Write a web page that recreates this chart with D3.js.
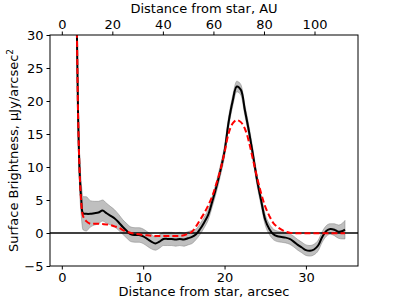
<!DOCTYPE html>
<html>
<head>
<meta charset="utf-8">
<script src="https://cdn.jsdelivr.net/npm/d3@7"></script>
<style>
body { margin: 0; background: #fff; }
text { font-family: "DejaVu Sans", sans-serif; }
</style>
</head>
<body>
<svg id="chart" width="399" height="299"></svg>
<script>
// distance from star (arcsec)
var dist = [1.7, 1.85, 2.0, 2.2, 2.4, 2.6, 3.0, 3.5, 4.0, 4.5, 5.0, 5.5, 6.0, 6.5, 7.0, 7.5, 8.0, 8.5, 9.0, 9.5,
  10.0, 10.5, 11.0, 11.5, 12.0, 12.5, 13.0, 13.5, 14.0, 14.5, 15.0, 15.5, 16.0, 16.5, 17.0, 17.5, 18.0, 18.5, 19.0, 19.5,
  20.0, 20.5, 21.0, 21.5, 22.0, 22.5, 23.0, 23.5, 24.0, 24.5, 25.0, 25.5, 26.0, 26.5, 27.0, 27.5, 28.0, 28.5, 29.0, 29.5,
  30.0, 30.5, 31.0, 31.5, 32.0, 32.5, 33.0, 33.5, 34.0, 34.5, 34.8];

// measured surface brightness
var observed = [40, 31, 18, 9, 5, 3.0, 2.9, 2.9, 3.0, 3.1, 3.4, 3.0, 2.6, 2.2, 1.6, 0.9, 0.3, -0.2, -0.3, -0.3,
  -0.5, -0.9, -1.3, -1.6, -1.3, -0.9, -0.9, -0.9, -1.0, -0.9, -1.0, -0.8, -0.6, -0.2, 0.6, 1.6, 2.8, 4.8, 7.0, 9.5,
  12.4, 16.8, 20.0, 22.2, 21.7, 18.6, 15.4, 11.8, 8.0, 4.9, 2.0, 0.6, -0.2, -0.5, -0.6, -0.7, -0.9, -1.3, -1.8, -2.2,
  -2.6, -2.7, -2.5, -1.9, -0.6, 0.3, 0.6, 0.5, 0.2, 0.3, 0.5];

// uncertainty (half width of grey band)
var uncert = [2.5, 2.5, 2.5, 2.5, 2.5, 2.5, 2.6, 2.0, 1.8, 1.7, 1.6, 1.5, 1.4, 1.3, 1.2, 1.1, 1.1, 1.1, 1.1, 1.1,
  1.1, 1.1, 1.1, 1.0, 1.0, 1.0, 1.0, 1.0, 1.0, 1.0, 1.0, 1.0, 1.0, 0.8, 0.8, 0.8, 0.8, 0.8, 0.8, 0.8,
  0.8, 0.8, 0.8, 0.8, 0.8, 0.8, 0.8, 0.8, 0.8, 0.8, 0.8, 0.8, 0.8, 0.8, 0.8, 0.8, 0.8, 0.8, 0.8, 0.8,
  0.8, 0.8, 0.8, 0.8, 0.8, 0.8, 0.8, 0.9, 1.0, 1.2, 1.4];

// model
var model = [40, 31, 18, 9, 4.5, 2.6, 1.8, 1.4, 1.4, 1.4, 1.35, 1.3, 1.2, 1.0, 0.8, 0.45, 0.2, 0.0, -0.1, -0.2,
  -0.3, -0.35, -0.4, -0.45, -0.45, -0.45, -0.45, -0.45, -0.45, -0.45, -0.35, -0.1, 0.2, 1.0, 2.0, 3.0, 4.2, 5.6, 7.5, 9.6,
  12.2, 15.1, 16.6, 17.1, 16.8, 15.8, 13.8, 11.1, 8.4, 6.0, 4.0, 2.6, 1.5, 0.9, 0.5, 0.2, 0.05, 0.0, -0.05, -0.05,
  -0.05, -0.05, -0.05, -0.05, -0.05, -0.05, -0.05, -0.05, -0.05, -0.05, -0.05];

var yTicks = [-5, 0, 5, 10, 15, 20, 25, 30];
var xTicks = [0, 10, 20, 30];
var auTicks = [0, 20, 40, 60, 80, 100];
var auPerArcsec = 3.22;

var svg = d3.select("#chart");
var mLeft = 50, mRight = 358, mTop = 35, mBottom = 266;
var fs = 13;

var x = d3.scaleLinear().domain([-1.45, 36.4]).range([mLeft, mRight]);
var xAU = d3.scaleLinear().domain([-1.45 * auPerArcsec, 36.4 * auPerArcsec]).range([mLeft, mRight]);
var y = d3.scaleLinear().domain([-5, 30]).range([mBottom, mTop]);

var rows = dist.map((d, i) => ({x: d, obs: observed[i], err: uncert[i], mod: model[i]}));

svg.append("clipPath").attr("id", "clip")
  .append("rect").attr("x", mLeft).attr("y", mTop).attr("width", mRight - mLeft).attr("height", mBottom - mTop);

var plot = svg.append("g").attr("clip-path", "url(#clip)");

// grey band
plot.append("path")
  .datum(rows)
  .attr("fill", "#808080")
  .attr("fill-opacity", 0.5)
  .attr("stroke", "#808080")
  .attr("stroke-opacity", 0.5)
  .attr("stroke-width", 1)
  .attr("d", d3.area()
    .x(d => x(d.x))
    .y0(d => y(d.obs - d.err))
    .y1(d => y(d.obs + d.err))
    .curve(d3.curveMonotoneX));

// zero line
plot.append("line")
  .attr("x1", mLeft).attr("x2", mRight)
  .attr("y1", y(0)).attr("y2", y(0))
  .attr("stroke", "#000").attr("stroke-width", 1.5);

// observed
plot.append("path")
  .datum(rows)
  .attr("fill", "none")
  .attr("stroke", "#000")
  .attr("stroke-width", 2)
  .attr("d", d3.line().x(d => x(d.x)).y(d => y(d.obs)).curve(d3.curveCatmullRom));

// model
plot.append("path")
  .datum(rows)
  .attr("fill", "none")
  .attr("stroke", "#ff0000")
  .attr("stroke-width", 2)
  .attr("stroke-dasharray", "6,3")
  .attr("d", d3.line().x(d => x(d.x)).y(d => y(d.mod)).curve(d3.curveCatmullRom));

// frame
svg.append("rect")
  .attr("x", mLeft).attr("y", mTop).attr("width", mRight - mLeft).attr("height", mBottom - mTop)
  .attr("fill", "none").attr("stroke", "#000").attr("stroke-width", 1);

// axes
var fmt = d3.format("d");
var minus = v => fmt(v).replace("-", "\u2212");

var gx = svg.append("g").attr("transform", "translate(0," + mBottom + ")")
  .call(d3.axisBottom(x).tickValues(xTicks).tickSize(3.5).tickPadding(3).tickFormat(fmt));
var gt = svg.append("g").attr("transform", "translate(0," + mTop + ")")
  .call(d3.axisTop(xAU).tickValues(auTicks).tickSize(3.5).tickPadding(3).tickFormat(fmt));
var gy = svg.append("g").attr("transform", "translate(" + mLeft + ",0)")
  .call(d3.axisLeft(y).tickValues(yTicks).tickSize(3.5).tickPadding(3).tickFormat(minus));

[gx, gt, gy].forEach(g => {
  g.select(".domain").remove();
  g.selectAll("text").attr("font-size", fs).attr("fill", "#000").style("font-family", "DejaVu Sans");
  g.selectAll("line").attr("stroke", "#000");
});

// titles
svg.append("text")
  .attr("x", (mLeft + mRight) / 2).attr("y", 296)
  .attr("text-anchor", "middle").attr("font-size", fs)
  .text("Distance from star, arcsec");

svg.append("text")
  .attr("x", (mLeft + mRight) / 2).attr("y", 13)
  .attr("text-anchor", "middle").attr("font-size", fs)
  .text("Distance from star, AU");

var yl = svg.append("text")
  .attr("transform", "translate(18," + ((mTop + mBottom) / 2) + ") rotate(-90)")
  .attr("text-anchor", "middle").attr("font-size", fs);
yl.append("tspan").text("Surface Brightness, \u03bcJy/arcsec");
yl.append("tspan").attr("font-size", 9).attr("dy", -5).text("2");
</script>
</body>
</html>
